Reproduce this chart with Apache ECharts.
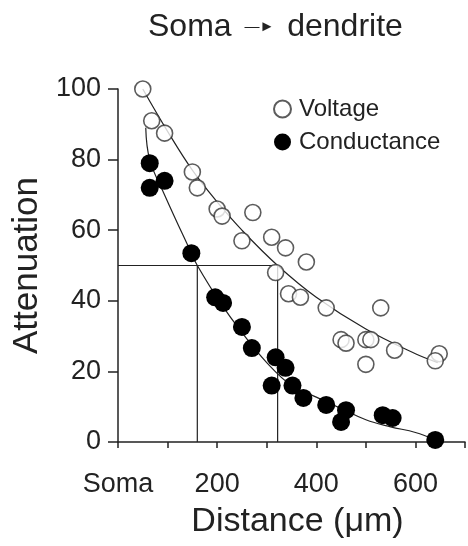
<!DOCTYPE html>
<html lang="en">
<head>
    <meta charset="UTF-8">
    <title>Soma → dendrite</title>
    <script src="https://cdn.jsdelivr.net/npm/echarts@6/dist/echarts.min.js"></script>
    <style>
        * { margin: 0; padding: 0; box-sizing: border-box; }
        body { background: #fff; }
        #chart { width: 468px; height: 546px; }
    </style>
</head>
<body>
    <div id="chart"></div>
    <script>
        // open circles
        const voltX = [50, 68, 94, 150, 160, 200, 210, 250, 272, 310, 318, 338, 344, 368, 380, 420, 450, 460, 500, 510, 500, 530, 558, 648, 640];
        const voltY = [100, 91, 87.5, 76.5, 72, 66, 64, 57, 65, 58, 48, 55, 42, 41, 51, 38, 29, 28, 29, 29, 22, 38, 26, 25, 23];

        // filled circles
        const condX = [64, 64, 94, 148, 196, 212, 250, 270, 318, 338, 310, 352, 374, 420, 460, 450, 534, 554, 640];
        const condY = [79, 72, 74, 53.5, 41, 39.4, 32.6, 26.6, 24, 21, 16, 16, 12.5, 10.5, 9, 5.7, 7.6, 6.8, 0.6];

        // hand-drawn fit curves
        const voltFitX = [50, 100, 150, 200, 250, 322, 400, 500, 600, 645];
        const voltFitY = [100, 88, 77, 68, 60, 50, 41, 32, 25, 22.5];
        const condFitX = [56, 64, 94, 148, 160, 204, 250, 300, 350, 400, 450, 500, 550, 600, 640];
        const condFitY = [89, 80, 70, 53.5, 50, 40, 31, 22.5, 16, 12.7, 9.5, 6.3, 4.3, 2.7, 0.6];

        // half-attenuation distances
        const halfX = [160, 322];
        const halfY = 50;

        const xTicks = { 0: 'Soma', 200: '200', 400: '400', 600: '600' };

        const zip = (xs, ys) => xs.map((x, i) => [x, ys[i]]);
        const ink = '#222';
        const font = 'Arial, "Liberation Sans", sans-serif';

        const chart = echarts.init(document.getElementById('chart'));

        const thin = { color: ink, width: 1.2 };

        const option = {
            backgroundColor: '#fff',
            animation: false,
            title: {
                text: '{t|Soma }{a|—►}{t| dendrite}',
                left: 143,
                top: 6,
                textStyle: {
                    rich: {
                        t: { fontSize: 32, fontFamily: font, color: ink, fontWeight: 'normal' },
                        a: { fontSize: 15, fontFamily: font, color: ink, fontWeight: 'normal', padding: [0, 4, 0, 4] }
                    }
                }
            },
            legend: {
                orient: 'vertical',
                left: 268,
                top: 92,
                itemWidth: 17,
                itemHeight: 17,
                itemGap: 9,
                icon: 'circle',
                data: ['Voltage', 'Conductance'],
                textStyle: { fontSize: 24, fontFamily: font, color: ink, padding: [0, 0, 0, 3] }
            },
            grid: { left: 118, right: 0, top: 89, bottom: 104, containLabel: false },
            xAxis: {
                type: 'value',
                min: 0, max: 700, interval: 100,
                offset: 5,
                name: 'Distance (μm)',
                nameLocation: 'middle',
                nameGap: 58,
                nameTextStyle: { fontSize: 34, fontFamily: font, color: ink, padding: [0, 0, 0, 12] },
                axisLine: { lineStyle: { color: ink, width: 1.5 } },
                axisTick: { length: 6, lineStyle: { color: ink, width: 1.5 } },
                axisLabel: {
                    fontSize: 27, fontFamily: font, color: ink, margin: 24,
                    formatter: v => xTicks[v] || ''
                },
                splitLine: { show: false }
            },
            yAxis: {
                type: 'value',
                min: 0, max: 100, interval: 20,
                name: 'Attenuation',
                nameLocation: 'middle',
                nameGap: 70,
                nameTextStyle: { fontSize: 35, fontFamily: font, color: ink },
                axisLine: { show: true, lineStyle: { color: ink, width: 1.5 } },
                axisTick: { show: true, length: 10, lineStyle: { color: ink, width: 1.5 } },
                axisLabel: { fontSize: 27, fontFamily: font, color: ink, margin: 17 },
                splitLine: { show: false }
            },
            series: [
                {
                    type: 'line', data: [[0, halfY], [halfX[1], halfY]],
                    symbol: 'none', lineStyle: thin, silent: true, z: 1
                },
                {
                    type: 'line', data: [[halfX[0], 0], [halfX[0], halfY]],
                    symbol: 'none', lineStyle: thin, silent: true, z: 1
                },
                {
                    type: 'line', data: [[halfX[1], 0], [halfX[1], halfY]],
                    symbol: 'none', lineStyle: thin, silent: true, z: 1
                },
                {
                    type: 'line', data: zip(voltFitX, voltFitY), smooth: 0.4,
                    symbol: 'none', lineStyle: thin, silent: true, z: 1
                },
                {
                    type: 'line', data: zip(condFitX, condFitY), smooth: 0.4,
                    symbol: 'none', lineStyle: thin, silent: true, z: 1
                },
                {
                    name: 'Voltage',
                    type: 'scatter',
                    data: zip(voltX, voltY),
                    symbolSize: 16,
                    itemStyle: { color: '#fff', borderColor: '#333', borderWidth: 1.6 },
                    z: 3
                },
                {
                    name: 'Conductance',
                    type: 'scatter',
                    data: zip(condX, condY),
                    symbolSize: 18,
                    itemStyle: { color: '#000', opacity: 1 },
                    z: 4
                }
            ]
        };

        chart.setOption(option);
    </script>
</body>
</html>
